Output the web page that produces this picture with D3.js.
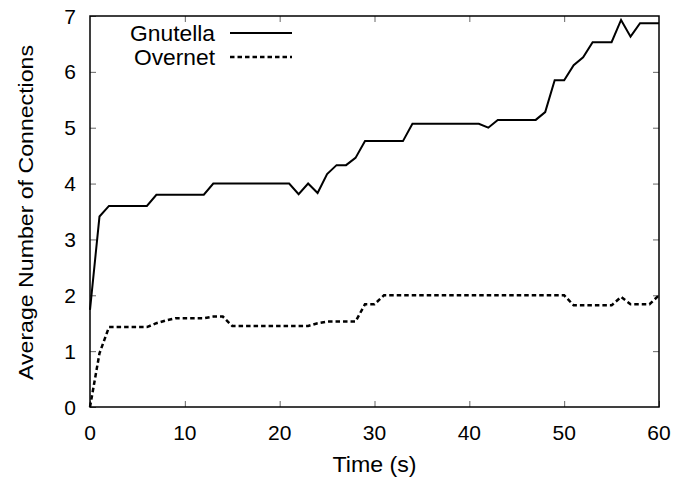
<!DOCTYPE html>
<html>
<head>
<meta charset="utf-8">
<script src="https://cdn.jsdelivr.net/npm/d3@7"></script>
<style>
  html, body { margin: 0; padding: 0; background: #fff; }
  svg { display: block; }
  text { font-family: "Liberation Sans", Arial, Helvetica, sans-serif; fill: #000; }
</style>
</head>
<body>
<svg id="chart" width="678" height="487"></svg>
<script>
// ---- data ----
const times = d3.range(0, 61); // seconds 0..60
const gnutella = [
  1.74, 3.41, 3.60, 3.60, 3.60, 3.60, 3.60, 3.80, 3.80, 3.80,
  3.80, 3.80, 3.80, 4.00, 4.00, 4.00, 4.00, 4.00, 4.00, 4.00,
  4.00, 4.00, 3.81, 4.00, 3.83, 4.17, 4.33, 4.33, 4.46, 4.76,
  4.76, 4.76, 4.76, 4.76, 5.07, 5.07, 5.07, 5.07, 5.07, 5.07,
  5.07, 5.07, 5.00, 5.14, 5.14, 5.14, 5.14, 5.14, 5.28, 5.85,
  5.85, 6.12, 6.26, 6.53, 6.53, 6.53, 6.93, 6.63, 6.87, 6.87,
  6.87
];
const overnet = [
  0.00, 0.96, 1.43, 1.43, 1.43, 1.43, 1.43, 1.50, 1.55, 1.59,
  1.59, 1.59, 1.59, 1.62, 1.62, 1.45, 1.45, 1.45, 1.45, 1.45,
  1.45, 1.45, 1.45, 1.45, 1.50, 1.53, 1.53, 1.53, 1.53, 1.84,
  1.84, 2.00, 2.00, 2.00, 2.00, 2.00, 2.00, 2.00, 2.00, 2.00,
  2.00, 2.00, 2.00, 2.00, 2.00, 2.00, 2.00, 2.00, 2.00, 2.00,
  2.00, 1.82, 1.82, 1.82, 1.82, 1.82, 1.97, 1.84, 1.84, 1.84,
  2.00
];
const seriesNames = ["Gnutella", "Overnet"];
const xTicks = [0, 10, 20, 30, 40, 50, 60];
const yTicks = [0, 1, 2, 3, 4, 5, 6, 7];
const xTitle = "Time (s)";
const yTitle = "Average Number of Connections";

// ---- layout ----
const mL = 90, mR = 659, mT = 16, mB = 407;
const svg = d3.select("#chart");
const x = d3.scaleLinear().domain([0, 60]).range([mL, mR]);
const y = d3.scaleLinear().domain([0, 7]).range([mB, mT]);

// ticks (inward)
const tickLen = 6;
const tickColor = "#666";
function styleAxis(g) {
  g.select(".domain").remove();
  g.selectAll(".tick line").attr("stroke", tickColor).attr("stroke-width", 1);
}
svg.append("g").attr("transform", `translate(0,${mB})`)
  .call(d3.axisBottom(x).tickValues(xTicks).tickSize(-tickLen).tickFormat(""))
  .call(styleAxis);
svg.append("g").attr("transform", `translate(0,${mT})`)
  .call(d3.axisTop(x).tickValues(xTicks.slice(1, -1)).tickSize(-tickLen).tickFormat(""))
  .call(styleAxis);
svg.append("g").attr("transform", `translate(${mL},0)`)
  .call(d3.axisLeft(y).tickValues(yTicks).tickSize(-tickLen).tickFormat(""))
  .call(styleAxis);
svg.append("g").attr("transform", `translate(${mR},0)`)
  .call(d3.axisRight(y).tickValues(yTicks.slice(1, -1)).tickSize(-tickLen).tickFormat(""))
  .call(styleAxis);

// tick labels
svg.append("g").selectAll("text").data(xTicks).join("text")
  .attr("x", d => x(d)).attr("y", 440)
  .attr("text-anchor", "middle").attr("font-size", 21)
  .text(d => d);
svg.append("g").selectAll("text").data(yTicks).join("text")
  .attr("x", 76).attr("y", d => y(d) + 7.5)
  .attr("text-anchor", "end").attr("font-size", 21)
  .text(d => d);

// border
svg.append("rect")
  .attr("x", mL).attr("y", mT)
  .attr("width", mR - mL).attr("height", mB - mT)
  .attr("fill", "none").attr("stroke", "#000").attr("stroke-width", 1.5);

// axis titles
svg.append("text")
  .attr("x", (mL + mR) / 2).attr("y", 472)
  .attr("text-anchor", "middle").attr("font-size", 22)
  .attr("textLength", 84).attr("lengthAdjust", "spacingAndGlyphs")
  .text(xTitle);
svg.append("text")
  .attr("transform", `translate(33,${(45 + 380) / 2}) rotate(-90)`)
  .attr("text-anchor", "middle").attr("font-size", 21)
  .attr("textLength", 335).attr("lengthAdjust", "spacingAndGlyphs")
  .text(yTitle);

// lines
const line = d3.line().x((d, i) => x(times[i])).y(d => y(d));
const styles = [
  { dash: null, width: 2 },
  { dash: "4.5,3", width: 2.5 }
];
[gnutella, overnet].forEach((s, k) => {
  svg.append("path")
    .datum(s)
    .attr("d", line)
    .attr("fill", "none")
    .attr("stroke", "#000")
    .attr("stroke-width", styles[k].width)
    .attr("stroke-dasharray", styles[k].dash)
    .attr("stroke-linejoin", "miter");
});

// legend
const legY = [33, 57];
const legW = [85, 81];
seriesNames.forEach((name, k) => {
  svg.append("text")
    .attr("x", 215).attr("y", legY[k] + 8)
    .attr("text-anchor", "end").attr("font-size", 22)
    .attr("textLength", legW[k]).attr("lengthAdjust", "spacingAndGlyphs")
    .text(name);
  svg.append("line")
    .attr("x1", 230).attr("x2", 292)
    .attr("y1", legY[k]).attr("y2", legY[k])
    .attr("stroke", "#000")
    .attr("stroke-width", styles[k].width)
    .attr("stroke-dasharray", styles[k].dash);
});
</script>
</body>
</html>
